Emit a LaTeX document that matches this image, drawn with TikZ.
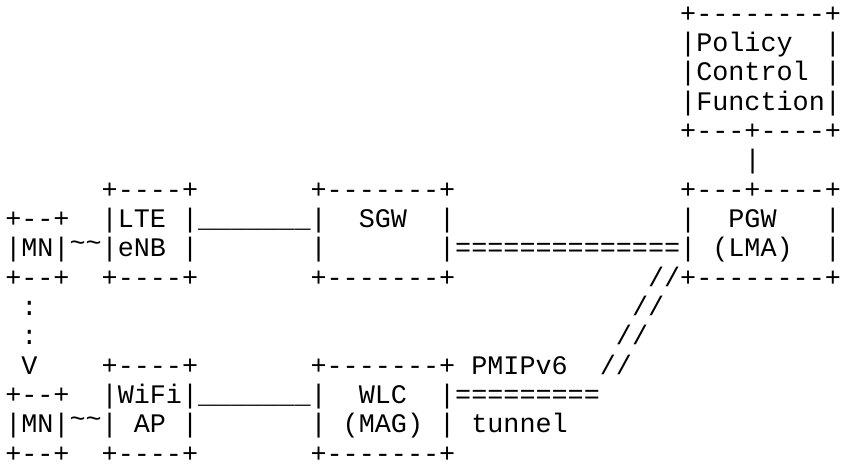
\documentclass[tikz,border=0pt]{standalone}
\usepackage{fontspec}
\setmonofont{Liberation Mono}
\newcommand\ascseg[4]{\node[asc] (#1) at ({5.27+#2*16.07}, {-(22.3+(#3-1)*29.33)}) {#4};}
\newcommand\uline{\_\_\_\_\_\_\_}
\newcommand\tld{\raisebox{5pt}{\textasciitilde\textasciitilde}}
\tikzset{asc/.style={font=\ttfamily\fontsize{26.78}{29.33}\selectfont, text=black, inner sep=0pt, outer sep=0pt, text depth=0pt, anchor=base west}}
\begin{document}
\begin{tikzpicture}[x=1pt,y=1pt]
\useasboundingbox[fill=white] (0,0) rectangle (842,-465);
% Policy Control Function
\ascseg{pcfT}{42}{1}{+--------+}
\ascseg{pcfA}{42}{2}{|Policy\ \ |}
\ascseg{pcfB}{42}{3}{|Control\ |}
\ascseg{pcfC}{42}{4}{|Function|}
\ascseg{pcfD}{42}{5}{+---+----+}
\ascseg{pcfL}{46}{6}{|}
% row 7
\ascseg{lteT}{6}{7}{+----+}
\ascseg{sgwT}{19}{7}{+-------+}
\ascseg{pgwT}{42}{7}{+---+----+}
% row 8
\ascseg{mnT}{0}{8}{+--+}
\ascseg{lteA}{6}{8}{|LTE\ |}
\ascseg{lnkA}{12}{8}{\uline}
\ascseg{sgwA}{19}{8}{|\ \ SGW\ \ |}
\ascseg{pgwA}{42}{8}{|\ \ PGW\ \ \ |}
% row 9
\ascseg{mnA}{0}{9}{|MN|}
\ascseg{airA}{4}{9}{\tld}
\ascseg{lteB}{6}{9}{|eNB\ |}
\ascseg{sgwB}{19}{9}{|}
\ascseg{sgwBr}{27}{9}{|}
\ascseg{tunA}{28}{9}{==============}
\ascseg{pgwB}{42}{9}{|\ (LMA)\ \ |}
% row 10
\ascseg{mnB}{0}{10}{+--+}
\ascseg{lteC}{6}{10}{+----+}
\ascseg{sgwC}{19}{10}{+-------+}
\ascseg{slA}{40}{10}{//}
\ascseg{pgwC}{42}{10}{+--------+}
% rows 11-13
\ascseg{dotA}{1}{11}{:}
\ascseg{slB}{39}{11}{//}
\ascseg{dotB}{1}{12}{:}
\ascseg{slC}{38}{12}{//}
\ascseg{arr}{1}{13}{V}
\ascseg{wifiT}{6}{13}{+----+}
\ascseg{wlcT}{19}{13}{+-------+}
\ascseg{lblA}{29}{13}{PMIPv6}
\ascseg{slD}{37}{13}{//}
% row 14
\ascseg{mnbT}{0}{14}{+--+}
\ascseg{wifiA}{6}{14}{|WiFi|}
\ascseg{lnkB}{12}{14}{\uline}
\ascseg{wlcA}{19}{14}{|\ \ WLC\ \ |}
\ascseg{tunB}{28}{14}{=========}
% row 15
\ascseg{mnbA}{0}{15}{|MN|}
\ascseg{airB}{4}{15}{\tld}
\ascseg{wifiB}{6}{15}{|\ AP\ |}
\ascseg{wlcB}{19}{15}{|\ (MAG)\ |}
\ascseg{lblB}{29}{15}{tunnel}
% row 16
\ascseg{mnbB}{0}{16}{+--+}
\ascseg{wifiC}{6}{16}{+----+}
\ascseg{wlcC}{19}{16}{+-------+}
\end{tikzpicture}
\end{document}
